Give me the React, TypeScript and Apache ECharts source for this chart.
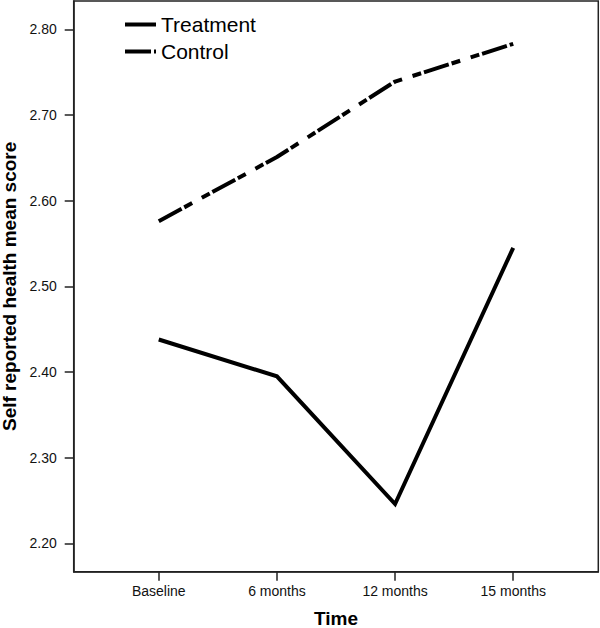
import React, { useEffect, useRef } from "react";
import * as echarts from "echarts";

const categories = ["Baseline", "6 months", "12 months", "15 months"];
const treatment = [2.438, 2.395, 2.246, 2.545];
const control = [2.576, 2.651, 2.739, 2.783];
const yTicks = [2.2, 2.3, 2.4, 2.5, 2.6, 2.7, 2.8];
const xTicks = [1, 2, 3, 4];

const FONT = 'Arial, "Liberation Sans", Helvetica, sans-serif';
const AXIS_COLOR = "#222";

export default function App() {
  const ref = useRef<HTMLDivElement>(null);
  useEffect(() => {
    if (!ref.current) return;
    const chart = echarts.init(ref.current, undefined, { renderer: "svg" });
    const toPts = (arr: number[]) => arr.map((v, i) => [xTicks[i], v]);
    chart.setOption({
      animation: false,
      backgroundColor: "#fff",
      textStyle: { fontFamily: FONT },
      grid: {
        left: 73.7,
        right: 1.7,
        top: 1,
        bottom: 56.3,
        show: true,
        outerBoundsMode: "none",
        containLabel: false,
        borderColor: AXIS_COLOR,
        borderWidth: 1.5,
        backgroundColor: "transparent",
      },
      legend: {
        orient: "vertical",
        left: 123,
        top: 14,
        padding: 0,
        itemWidth: 31,
        itemHeight: 14,
        itemGap: 6,
        textStyle: { fontSize: 21, color: "#000", fontFamily: FONT },
        lineStyle: { width: 4 },
        itemStyle: { opacity: 0 },
        data: ["Treatment", "Control"],
      },
      xAxis: {
        type: "value",
        min: 0.28,
        max: 4.72,
        name: "Time",
        nameLocation: "middle",
        nameGap: 40.3,
        nameTextStyle: { fontSize: 19, lineHeight: 12, fontWeight: "bold", color: "#000", fontFamily: FONT },
        axisLine: { show: true, lineStyle: { color: AXIS_COLOR, width: 1.5 } },
        axisTick: { show: true, length: 9, customValues: xTicks, lineStyle: { color: AXIS_COLOR, width: 1.5 } },
        axisLabel: {
          customValues: xTicks,
          margin: 12,
          fontSize: 14,
          color: "#111",
          fontFamily: FONT,
          formatter: (v: number) => categories[Math.round(v) - 1] ?? "",
        },
        splitLine: { show: false },
      },
      yAxis: {
        type: "value",
        min: 2.167,
        max: 2.833,
        name: "Self reported health mean score",
        nameLocation: "middle",
        nameGap: 56.2,
        nameTextStyle: { fontSize: 19, lineHeight: 14, fontWeight: "bold", color: "#000", fontFamily: FONT },
        axisLine: { show: true, lineStyle: { color: AXIS_COLOR, width: 1.5 } },
        axisTick: { show: true, length: 9, customValues: yTicks, lineStyle: { color: AXIS_COLOR, width: 1.5 } },
        axisLabel: {
          customValues: yTicks,
          margin: 17,
          fontSize: 14,
          color: "#111",
          fontFamily: FONT,
          formatter: (v: number) => v.toFixed(2),
        },
        splitLine: { show: false },
      },
      series: [
        {
          name: "Treatment",
          type: "line",
          data: toPts(treatment),
          symbol: "none",
          lineStyle: { color: "#000", width: 4, type: "solid", join: "miter" },
          itemStyle: { color: "#000" },
        },
        {
          name: "Control",
          type: "line",
          data: toPts(control),
          symbol: "none",
          lineStyle: { color: "#000", width: 4, type: [26, 3, 9, 11, 9, 3], cap: "butt" },
          itemStyle: { color: "#000" },
        },
      ],
    });
    return () => chart.dispose();
  }, []);
  return (
    <div
      ref={ref}
      style={{ position: "absolute", left: 0, top: 0, width: 600, height: 628 }}
    />
  );
}
